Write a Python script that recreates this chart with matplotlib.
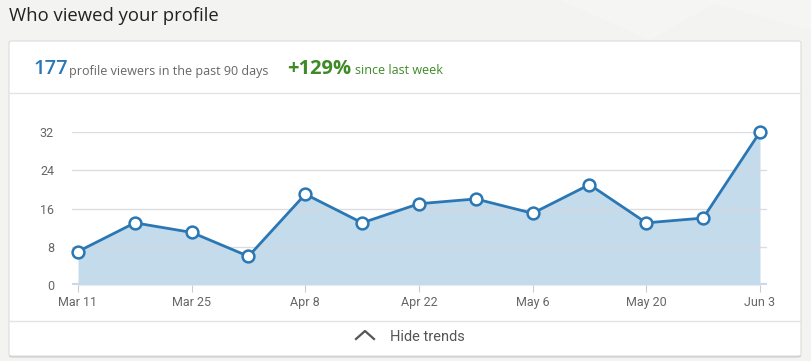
"""LinkedIn style 'Who viewed your profile' trend card"""

import datetime as dt
import matplotlib
matplotlib.use('Agg')
import matplotlib.pyplot as plt
import matplotlib.dates as mdates
from matplotlib.patches import FancyBboxPatch, Polygon
from matplotlib.lines import Line2D

# Data
weeks = [dt.date(2019, 3, 11) + dt.timedelta(days=7 * i) for i in range(13)]
viewers = [7, 13, 11, 6, 19, 13, 17, 18, 15, 21, 13, 14, 32]
tick_dates = weeks[::2]
tick_labels = ['Mar 11', 'Mar 25', 'Apr 8', 'Apr 22', 'May 6', 'May 20', 'Jun 3']
y_ticks = [0, 8, 16, 24, 32]
total_viewers = '177'
change = '+129%'

# Colours
BG = '#f3f3f2'
LINE = '#2a77b4'
FILL = '#c4dbec'
GRID = '#d6d6dc'
GRAY = '#666666'
GREEN = '#3d8a26'

W, H = 811, 361
fig = plt.figure(figsize=(W / 100, H / 100), dpi=100)
fig.patch.set_facecolor(BG)


def px(x, y):
    """Pixel coords (top-left origin) to figure fraction"""
    return x / W, 1 - y / H


# faint background shapes in top right
for pts, a in [([(560, 0), (720, 0), (650, 40)], 0.22), ([(700, 0), (811, 0), (811, 30)], 0.2)]:
    fig.patches.append(Polygon([px(*p) for p in pts], closed=True, transform=fig.transFigure,
                               facecolor='white', alpha=a, edgecolor='none', zorder=0))

# Title
fig.text(*px(9, 16), 'Who viewed your profile', fontsize=13.3, color='#222222',
         family='Open Sans', va='center', ha='left')

# Card with a small shadow
x0, y0 = px(9, 356)
shadow = FancyBboxPatch((x0, y0 - 1.5 / H), 792 / W, 315 / H, transform=fig.transFigure,
                        boxstyle='round,pad=0,rounding_size=0.004', facecolor='#c8c8c8',
                        edgecolor='none', zorder=1)
card = FancyBboxPatch((x0, y0), 792 / W, 315 / H, transform=fig.transFigure,
                      boxstyle='round,pad=0,rounding_size=0.004', facecolor='white',
                      edgecolor='#dcdcdc', linewidth=0.8, zorder=2)
fig.patches.extend([shadow, card])

# Separators
for yy in (93, 321):
    fig.lines.append(Line2D([10 / W, 800 / W], [1 - yy / H] * 2, transform=fig.transFigure,
                            color='#e4e4e4', linewidth=1, zorder=3))

# Header stats
fig.text(*px(33, 69), total_viewers, fontsize=14.5, color=LINE, family='Open Sans',
         weight='semibold', va='center', ha='left', zorder=4)
fig.text(*px(69, 71), 'profile viewers in the past 90 days', fontsize=9.0, color=GRAY,
         family='Open Sans', va='center', ha='left', zorder=4)
fig.text(*px(287, 69), change, fontsize=14.5, color=GREEN, family='Open Sans',
         weight='bold', va='center', ha='left', zorder=4)
fig.text(*px(355, 71), 'since last week', fontsize=9.0, color=GREEN,
         family='Open Sans', va='center', ha='left', zorder=4)

# Footer
fig.lines.append(Line2D([356 / W, 365 / W, 374 / W], [1 - 339 / H, 1 - 331 / H, 1 - 339 / H],
                        transform=fig.transFigure, color='#555555', linewidth=1.6, zorder=4))
fig.text(*px(390, 337), 'Hide trends', fontsize=10.5, color='#555555', family='Roboto',
         va='center', ha='left', zorder=4)

# Chart
ax = fig.add_axes([72 / W, 76 / H, 695 / W, 153 / H], zorder=5)
ax.set_facecolor('none')
xnum = mdates.date2num(weeks)
per_px = (xnum[-1] - xnum[0]) / 682
ax.set_xlim(xnum[0] - 6 * per_px, xnum[-1] + 7 * per_px)
ax.set_ylim(0, 32)

ax.fill_between(xnum, viewers, 0, color=FILL, linewidth=0, zorder=1)
for v in y_ticks[1:]:
    ax.axhline(v, color=GRID, linewidth=1, zorder=2, alpha=0.85)
ax.axhline(0, color='#c9d8ea', linewidth=3, zorder=2)
ax.plot(xnum, viewers, color=LINE, linewidth=2, marker='o', markersize=8.5,
        markerfacecolor='white', markeredgecolor=LINE, markeredgewidth=1.8,
        zorder=4, clip_on=False)

for s in ax.spines.values():
    s.set_visible(False)
ax.set_yticks(y_ticks)
ax.set_yticklabels([str(v) for v in y_ticks])
ax.set_xticks(mdates.date2num(tick_dates))
ax.set_xticklabels(tick_labels)
ax.tick_params(axis='y', length=0, pad=13, labelsize=9, labelcolor=GRAY)
ax.tick_params(axis='x', length=5, width=0.8, color='#cccccc', pad=3,
               labelsize=9, labelcolor=GRAY)
for lab in ax.get_xticklabels() + ax.get_yticklabels():
    lab.set_family('Roboto')

fig.savefig('out.png', dpi=100, facecolor=BG)
